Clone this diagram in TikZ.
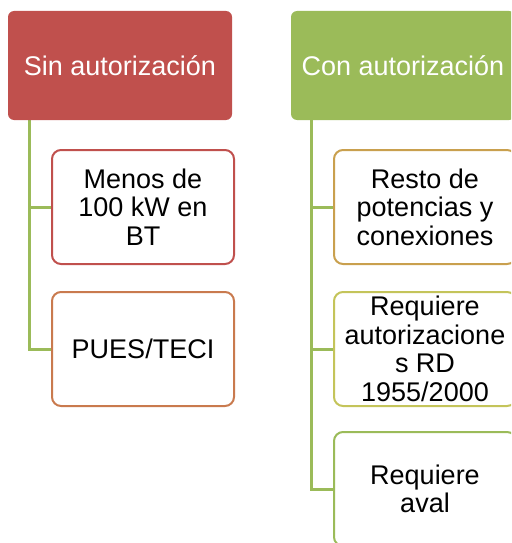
\documentclass[tikz,border=0pt]{standalone}
\usepackage{fontspec}
\setmainfont{Liberation Sans}
\usetikzlibrary{positioning,backgrounds}

\definecolor{redhead}{HTML}{C0504D}
\definecolor{greenhead}{HTML}{9BBB59}
\definecolor{orangeline}{HTML}{C97A4E}
\definecolor{goldline}{HTML}{C9A04E}
\definecolor{oliveline}{HTML}{C4C45A}

\begin{document}
\begin{tikzpicture}[x=1pt, y=-1pt,
    font=\fontsize{27}{28.5}\selectfont,
    head/.style={
        rectangle,
        rounded corners=6pt,
        draw=none,
        text=white,
        align=center,
        minimum width=224pt,
        minimum height=109pt,
        inner sep=0pt
    },
    item/.style={
        rectangle,
        rounded corners=9pt,
        fill=white,
        line width=2pt,
        align=center,
        minimum width=182pt,
        minimum height=114pt,
        inner sep=0pt
    },
    conn/.style={line width=3pt, greenhead}
]
\useasboundingbox (0,0) rectangle (511,543);
\clip (0,0) rectangle (511,543);

% ===== left column =====
\node[head, fill=redhead] (sin) at (120,65.5) {Sin autorización};
\node[item, draw=redhead] (menos) at (143,207) {Menos de\\100 kW en\\BT};
\node[item, draw=orangeline, below=26pt of menos] (pues) {PUES/TECI};

% ===== right column =====
\node[head, fill=greenhead] (con) at (403,65.5) {Con autorización};
\node[item, draw=goldline] (resto) at (425,207) {Resto de\\potencias y\\conexiones};
\node[item, draw=oliveline, below=26pt of resto] (req) {Requiere\\autorizacione\\s RD\\1955/2000};
\node[item, draw=greenhead, below=24pt of req] (aval) {Requiere\\aval};

% connectors
\begin{scope}[on background layer]
\draw[conn] ([xshift=22pt]sin.south west) |- (menos.west);
\draw[conn] ([xshift=22pt]sin.south west) |- (pues.west);
\draw[conn] ([xshift=21pt]con.south west) |- (resto.west);
\draw[conn] ([xshift=21pt]con.south west) |- (req.west);
\draw[conn] ([xshift=21pt]con.south west) |- (aval.west);
\end{scope}

\end{tikzpicture}
\end{document}
